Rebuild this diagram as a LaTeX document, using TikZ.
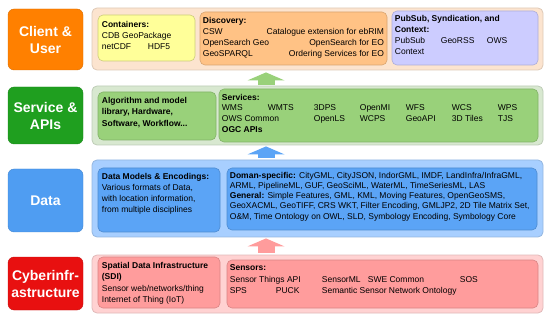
\documentclass[tikz,border=0pt]{standalone}
\usepackage{fontspec}
\setmainfont{Liberation Sans}
\usepackage{xcolor}
\usetikzlibrary{positioning, arrows.meta}

\definecolor{cClient}{HTML}{FF8000}
\definecolor{cService}{HTML}{1F9F1F}
\definecolor{cData}{HTML}{4F9DF2}
\definecolor{cCyber}{HTML}{E81010}
\definecolor{cPeach}{HTML}{FCE4CF}
\definecolor{cYellow}{HTML}{FFFF99}
\definecolor{cOrange}{HTML}{FFC285}
\definecolor{cLavender}{HTML}{CCCCFF}
\definecolor{cSage}{HTML}{D8E8D0}
\definecolor{cGreen}{HTML}{99D17A}
\definecolor{cSky}{HTML}{A8CFFF}
\definecolor{cBlue}{HTML}{5BA4F6}
\definecolor{cRose}{HTML}{FFD2D2}
\definecolor{cPink}{HTML}{FF9C9C}

\newcommand{\col}[1]{\makebox[46pt][l]{#1}}
\newcommand{\dcol}[1]{\makebox[92pt][l]{#1}}
\newcommand{\lr}[2]{\makebox[181pt]{#1\hfill #2}}

\begin{document}
\begin{tikzpicture}[
  x=1pt, y=-1pt,
  layer/.style={rounded corners=6pt, text=white, font=\fontsize{14}{17}\selectfont\bfseries, align=center, minimum width=75pt, inner sep=0pt},
  band/.style={rounded corners=5pt, line width=0.8pt, minimum width=451pt, inner sep=0pt},
  card/.style={rounded corners=5pt, line width=0.6pt, inner sep=0pt},
  body/.style={anchor=north west, inner sep=0pt, align=left, font=\fontsize{8.5}{11}\selectfont},
  lift/.style={line width=17pt, -{Triangle[width=37pt, length=8pt, line width=0pt]}}
]
\useasboundingbox (0,0) rectangle (550,321);

\node[layer, fill=cClient, draw=cClient!85!black, minimum height=61pt] (clientL) at (45.5,39.5) {Client \&\\User};
\node[layer, fill=cService, draw=cService!85!black, minimum height=57pt] (serviceL) at (45.5,115.5) {Service \&\\APIs};
\node[layer, fill=cData, draw=cData!85!black, minimum height=63pt] (dataL) at (45.5,200.5) {Data};
\node[layer, fill=cCyber, draw=cCyber!85!black, minimum height=53pt] (cyberL) at (45.5,283.5) {Cyberinfr-\\astructure};

\node[band, fill=cPeach, draw=cPeach!88!black, minimum height=62pt] (clientBand) at (317.5,39) {};
\node[band, fill=cSage, draw=cSage!88!black, minimum height=59pt] (serviceBand) at (317.5,115.5) {};
\node[band, fill=cSky, draw=cSky!88!black, minimum height=77pt] (dataBand) at (317.5,198.5) {};
\node[band, fill=cRose, draw=cRose!88!black, minimum height=58pt] (cyberBand) at (317.5,284) {};

\node[card, fill=cYellow, draw=cYellow!80!black, minimum width=97pt, minimum height=46pt] (containers) at (146.5,38) {};
\node[card, fill=cOrange, draw=cOrange!85!black, minimum width=187pt, minimum height=53pt] (discovery) at (293.5,38.5) {};
\node[card, fill=cLavender, draw=cLavender!85!black, minimum width=146pt, minimum height=54pt] (pubsub) at (465,38) {};
\node[card, fill=cGreen, draw=cGreen!85!black, minimum width=118pt, minimum height=48pt] (algo) at (157,116) {};
\node[card, fill=cGreen, draw=cGreen!85!black, minimum width=319pt, minimum height=53pt] (services) at (378.5,115.5) {};
\node[card, fill=cBlue, draw=cBlue!85!black, minimum width=122pt, minimum height=64pt] (models) at (159,200) {};
\node[card, fill=cBlue, draw=cBlue!85!black, minimum width=310pt, minimum height=62pt] (encodings) at (382,199) {};
\node[card, fill=cPink, draw=cPink!85!black, minimum width=122pt, minimum height=51pt] (sdi) at (159,282.5) {};
\node[card, fill=cPink, draw=cPink!85!black, minimum width=311pt, minimum height=48pt] (sensors) at (382.5,284) {};

\node[body] (containersT) at ([shift={(4,6)}]containers.north west) {\textbf{Containers:}\\CDB GeoPackage\\\col{netCDF}HDF5};
\node[body] (discoveryT) at ([shift={(3,5)}]discovery.north west) {\textbf{Discovery:}\\\lr{CSW}{Catalogue extension for ebRIM}\\\lr{OpenSearch Geo}{OpenSearch for EO}\\\lr{GeoSPARQL}{Ordering Services for EO}};
\node[body] (pubsubT) at ([shift={(3,4.5)}]pubsub.north west) {\textbf{PubSub, Syndication, and}\\\textbf{Context:}\\\col{PubSub}\col{GeoRSS}OWS\\Context};
\node[body, font=\fontsize{8.5}{11.5}\selectfont\bfseries] (algoT) at ([shift={(4,5)}]algo.north west) {Algorithm and model\\library, Hardware,\\Software, Workflow...};
\node[body, font=\fontsize{8.5}{10.7}\selectfont] (servicesT) at ([shift={(3,5)}]services.north west) {\textbf{Services:}\\\col{WMS}\col{WMTS}\col{3DPS}\col{OpenMI}\col{WFS}\col{WCS}WPS\\\dcol{OWS Common}\col{OpenLS}\col{WCPS}\col{GeoAPI}\col{3D Tiles}TJS\\\textbf{OGC APIs}};
\node[body] (modelsT) at ([shift={(4,5)}]models.north west) {\textbf{Data Models \& Encodings:}\\Various formats of Data,\\with location information,\\from multiple disciplines};
\node[body, font=\fontsize{8.5}{10.3}\selectfont] (encodingsT) at ([shift={(3,4)}]encodings.north west) {\textbf{Doman-specific:} CityGML, CityJSON, IndorGML, IMDF, LandInfra/InfraGML,\\ARML, PipelineML, GUF, GeoSciML, WaterML, TimeSeriesML, LAS\\\textbf{General:} Simple Features, GML, KML, Moving Features, OpenGeoSMS,\\GeoXACML, GeoTIFF, CRS WKT, Filter Encoding, GMLJP2, 2D Tile Matrix Set,\\O\&M, Time Ontology on OWL, SLD, Symbology Encoding, Symbology Core};
\node[body] (sdiT) at ([shift={(4,5)}]sdi.north west) {\textbf{Spatial Data Infrastructure}\\\textbf{(SDI)}\\[1.5pt]Sensor web/networks/thing\\Internet of Thing (IoT)};
\node[body, font=\fontsize{8.5}{11.5}\selectfont] (sensorsT) at ([shift={(3,5)}]sensors.north west) {\textbf{Sensors:}\\\dcol{Sensor Things API}\col{SensorML}\dcol{SWE Common}SOS\\\col{SPS}\col{PUCK}Semantic Sensor Network Ontology};

\coordinate (axis) at (266,0);
\draw[lift, cGreen, shorten <=1pt, shorten >=2pt] (axis |- serviceBand.north) -- (axis |- clientBand.south);
\draw[lift, cBlue, shorten <=2pt, shorten >=1pt] (axis |- dataBand.north) -- (axis |- serviceBand.south);
\draw[lift, cPink, shorten <=2pt, shorten >=1pt] (axis |- cyberBand.north) -- (axis |- dataBand.south);

\end{tikzpicture}
\end{document}
